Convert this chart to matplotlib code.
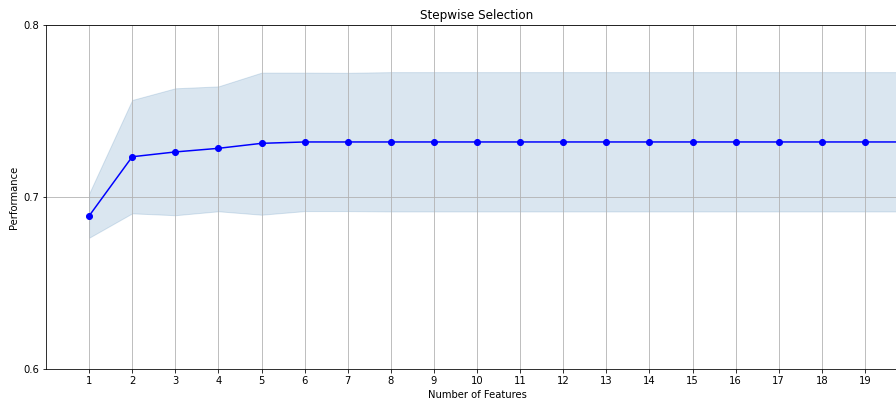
import matplotlib
matplotlib.use('Agg')
import matplotlib.pyplot as plt

# number of features and cross-validated performance
k_feat = list(range(1, 21))
avg_score = [0.689, 0.7234, 0.7262, 0.7283, 0.7312, 0.732, 0.732, 0.732, 0.732, 0.732,
             0.732, 0.732, 0.732, 0.732, 0.732, 0.732, 0.732, 0.732, 0.732, 0.732]
upper = [0.702, 0.7564, 0.7632, 0.7643, 0.7723, 0.7723, 0.7722, 0.7726, 0.7726, 0.7726,
         0.7726, 0.7726, 0.7726, 0.7726, 0.7726, 0.7726, 0.7726, 0.7726, 0.7726, 0.7726]
lower = [0.6763, 0.6905, 0.6894, 0.6917, 0.6897, 0.6918, 0.6918, 0.6916, 0.6916, 0.6916,
         0.6916, 0.6916, 0.6916, 0.6916, 0.6916, 0.6916, 0.6916, 0.6916, 0.6916, 0.6916]
tick_feat = list(range(1, 20))  # visible tick labels (20 falls off the edge)

fig = plt.figure(figsize=(896 / 72, 400 / 72), dpi=72)
ax = fig.add_axes([46 / 896, 31 / 400, 862 / 896, 344 / 400])

ax.fill_between(k_feat, upper, lower, alpha=0.2, color='steelblue', lw=1)
ax.plot(k_feat, avg_score, color='blue', marker='o')

ax.set_xlim(0, 20)
ax.set_ylim(0.6, 0.8)
ax.set_xticks(tick_feat)
ax.set_yticks([0.6, 0.7, 0.8])
ax.set_title('Stepwise Selection')
ax.set_xlabel('Number of Features')
ax.set_ylabel('Performance')
ax.grid()

fig.savefig('out.png', dpi=72)
